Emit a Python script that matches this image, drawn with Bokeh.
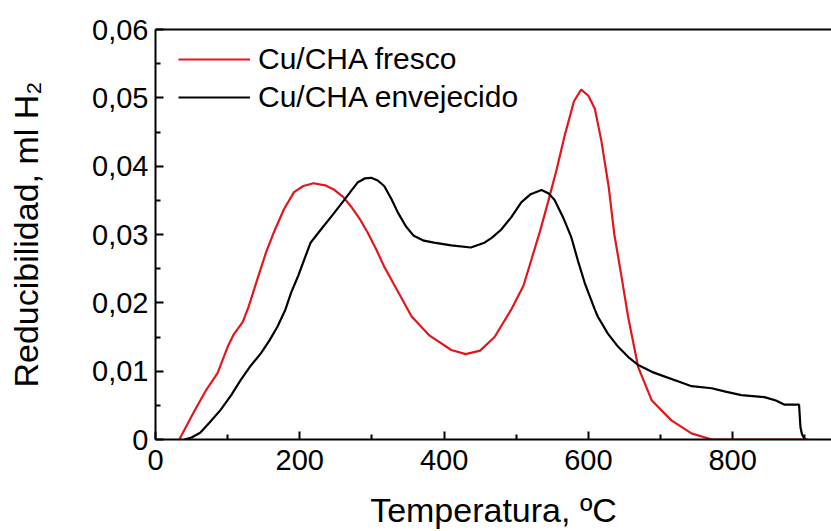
from bokeh.plotting import figure
from bokeh.models import (Range1d, FixedTicker, CustomJSTickFormatter, LinearAxis,
                          Legend, LegendItem)
from bokeh.embed import file_html
from bokeh.resources import INLINE

# Cu/CHA fresco (red)
t_fresco = [33, 53, 70, 86, 101, 108, 121, 129, 141, 153, 164, 178, 192, 205, 219, 235,
            247, 260, 271, 283, 294, 306, 317, 330, 340, 355, 380, 410, 430, 450, 470,
            493, 510, 521, 533, 544, 556, 567, 580, 590, 600, 609, 618, 628, 636, 646,
            655, 669, 688, 715, 743, 771, 800, 850, 905]
v_fresco = [0.0, 0.004, 0.0072, 0.0097, 0.0138, 0.0153, 0.0172, 0.0194, 0.0234, 0.0273,
            0.0303, 0.0337, 0.0362, 0.0371, 0.0375, 0.0372, 0.0366, 0.0355, 0.0341,
            0.0323, 0.0303, 0.0278, 0.0253, 0.0228, 0.0209, 0.018, 0.0152, 0.0131,
            0.0125, 0.013, 0.015, 0.019, 0.0225, 0.0263, 0.0305, 0.0347, 0.0395, 0.0444,
            0.0495, 0.0512, 0.0503, 0.0484, 0.0437, 0.0371, 0.0300, 0.0238, 0.0180,
            0.0106, 0.0057, 0.0028, 0.0009, 0.0, 0.0, 0.0, 0.0]

# Cu/CHA envejecido (black)
t_env = [40, 50, 62, 75, 90, 105, 118, 132, 146, 158, 169, 180, 188, 198, 206, 215, 229,
         245, 262, 272, 280, 290, 299, 308, 317, 327, 336, 347, 358, 372, 386, 410, 437,
         456, 466, 479, 493, 507, 520, 535, 545, 553, 565, 576, 586, 595, 609, 613, 627,
         641, 655, 669, 688, 706, 725, 743, 771, 790, 812, 844, 860, 872, 892, 894, 896, 900]
v_env = [0.0, 0.0003, 0.001, 0.0025, 0.0043, 0.0065, 0.0087, 0.0108, 0.0126, 0.0145,
         0.0165, 0.019, 0.0215, 0.024, 0.0263, 0.0288, 0.0307, 0.0328, 0.0351, 0.0365,
         0.0376, 0.0382, 0.0383, 0.0379, 0.0371, 0.0352, 0.0332, 0.0312, 0.0298, 0.0291,
         0.0288, 0.0284, 0.0281, 0.0288, 0.0295, 0.0307, 0.0325, 0.0347, 0.0359, 0.0365,
         0.036, 0.0351, 0.0325, 0.0297, 0.026, 0.0229, 0.019, 0.018, 0.0155, 0.0136,
         0.0121, 0.0109, 0.0099, 0.0092, 0.0085, 0.0078, 0.0075, 0.007, 0.0065, 0.0062,
         0.0057, 0.0051, 0.0051, 0.0018, 0.0008, 0.0]

x_ticks = [0, 200, 400, 600, 800]
x_minor = [100, 300, 500, 700, 900]
y_ticks = [0, 0.01, 0.02, 0.03, 0.04, 0.05, 0.06]
y_minor = [0.005, 0.015, 0.025, 0.035, 0.045, 0.055]

labels = ["Cu/CHA fresco", "Cu/CHA envejecido"]
x_title = "Temperatura, ºC"
y_title = "Reducibilidad, ml H₂"

FONT = "Liberation Sans"
RED = "#e3161b"

p = figure(width=831, height=531, output_backend="svg", toolbar_location=None,
           x_range=Range1d(0, 937), y_range=Range1d(0, 0.06),
           min_border_left=155, min_border_top=29, min_border_bottom=92,
           min_border_right=0, x_axis_location=None, y_axis_location=None)
p.outline_line_color = None
p.grid.visible = False
p.background_fill_color = "white"
p.border_fill_color = "white"

r1 = p.line(t_fresco, v_fresco, line_color=RED, line_width=2.2)
r2 = p.line(t_env, v_env, line_color="black", line_width=2.2)

def style(ax):
    ax.axis_line_width = 2
    ax.axis_line_color = "black"
    ax.major_tick_line_width = 2
    ax.minor_tick_line_width = 2
    ax.major_tick_in = 8
    ax.major_tick_out = 0
    ax.minor_tick_in = 5
    ax.minor_tick_out = 0
    ax.major_label_text_font = FONT
    ax.major_label_text_font_size = "29px"
    ax.major_label_text_color = "black"
    ax.axis_label_text_font = FONT
    ax.axis_label_text_font_size = "34px"
    ax.axis_label_text_font_style = "normal"
    ax.axis_label_text_color = "black"

xax = LinearAxis(ticker=FixedTicker(ticks=x_ticks, minor_ticks=x_minor),
                 axis_label=x_title)
style(xax)
xax.major_label_standoff = 10
xax.axis_label_standoff = 18
p.add_layout(xax, "below")

yfmt = CustomJSTickFormatter(code="""
    if (Math.abs(tick) < 1e-9) { return "0"; }
    return tick.toFixed(2).replace(".", ",");
""")
yax = LinearAxis(ticker=FixedTicker(ticks=y_ticks, minor_ticks=y_minor),
                 formatter=yfmt, axis_label=y_title)
style(yax)
yax.major_label_standoff = 7
yax.axis_label_standoff = 44
p.add_layout(yax, "left")

top = LinearAxis(ticker=FixedTicker(ticks=[]))
top.axis_line_width = 2
top.axis_line_color = "black"
top.major_tick_in = 0
top.major_tick_out = 0
top.minor_tick_in = 0
top.minor_tick_out = 0
top.major_label_text_font_size = "0px"
p.add_layout(top, "above")

legend = Legend(items=[LegendItem(label=labels[0], renderers=[r1]),
                       LegendItem(label=labels[1], renderers=[r2])],
                location=(23, 325), orientation="vertical")
legend.label_text_font = FONT
legend.label_text_font_size = "30px"
legend.label_text_color = "black"
legend.glyph_width = 72
legend.glyph_height = 34
legend.label_height = 34
legend.label_standoff = 8
legend.spacing = 4
legend.padding = 0
legend.margin = 0
legend.border_line_color = None
legend.background_fill_alpha = 0
p.add_layout(legend, "center")

open("out.html", "w").write(file_html(p, INLINE))
